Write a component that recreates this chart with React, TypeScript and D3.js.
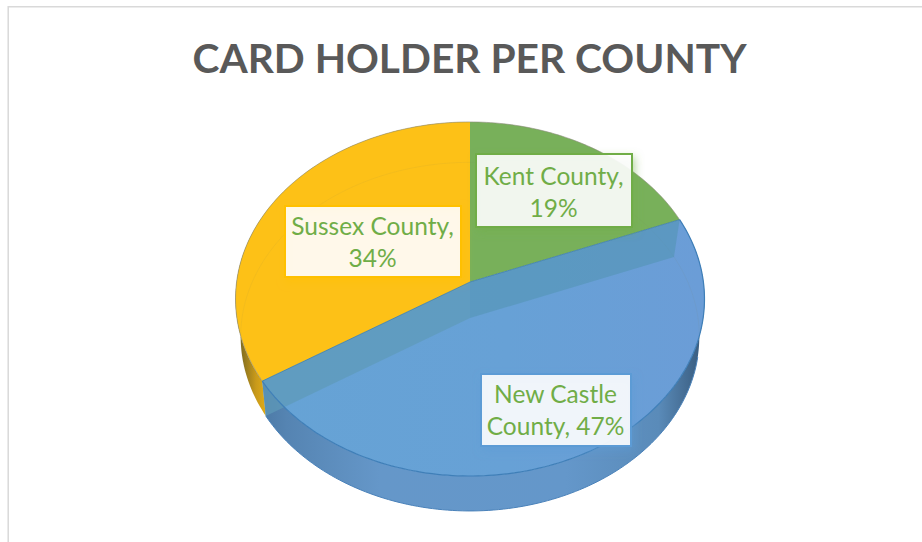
import React from 'react';
import * as d3 from 'd3';

const title = 'CARD HOLDER PER COUNTY';
const counties = ['Kent County', 'New Castle County', 'Sussex County'];
const shares = [19, 47, 34];
const labelLines = [
  ['Kent County,', '19%'],
  ['New Castle', 'County, 47%'],
  ['Sussex County,', '34%'],
];
const topColors = ['#78b05a', 'url(#topBlue)', '#fdc117'];
const borderColors = ['#70ad47', '#5b9bd5', '#ffc000'];

// label boxes were dragged by hand in the original, so they are placed by hand here
const labelBoxes = [
  { x: 476, y: 154, w: 156, h: 73, base: 184.5 },
  { x: 481, y: 374, w: 150, h: 72, base: 402.5 },
  { x: 285, y: 206, w: 176, h: 71, base: 234.5 },
];

const W = 922;
const H = 542;

// the pie is a tilted disc seen in perspective: a point's scale depends on how near it is
type Ring = { cx: number; cy: number; rx: number; ry: number; k: number };
const topRing: Ring = { cx: 470, cy: 282, rx: 233.4, ry: 175.4, k: 0.096 };
const bottomRing: Ring = { cx: 470, cy: 318, rx: 228, ry: 172.3, k: 0.107 };

const project = (ring: Ring, a: number): [number, number] => {
  const u = Math.sin(a);
  const v = -Math.cos(a);
  const s = 1 / (1 - ring.k * v);
  return [ring.cx + ring.rx * u * s, ring.cy + ring.ry * v * s];
};

const arcPoints = (ring: Ring, a0: number, a1: number) => {
  const n = Math.max(2, Math.ceil(Math.abs(a1 - a0) / 0.02));
  return d3.range(n + 1).map((i) => project(ring, a0 + ((a1 - a0) * i) / n));
};

const line = d3.line();
const closed = (pts: [number, number][]) => (line(pts) || '') + 'Z';

const arcs = d3
  .pie<number>()
  .sort(null)
  .startAngle(0)
  .endAngle(2 * Math.PI)(shares);

const topPath = (i: number) =>
  closed([[topRing.cx, topRing.cy], ...arcPoints(topRing, arcs[i].startAngle, arcs[i].endAngle)]);

const wallPath = (i: number) =>
  closed([
    ...arcPoints(topRing, arcs[i].startAngle, arcs[i].endAngle),
    ...arcPoints(bottomRing, arcs[i].endAngle, arcs[i].startAngle),
  ]);

// the wall inside the slice at a cut edge, seen through the see-through blue top
const innerWall = (a: number) =>
  closed([[topRing.cx, topRing.cy], project(topRing, a), project(bottomRing, a), [bottomRing.cx, bottomRing.cy]]);

export default function App() {
  const blue = arcs[1];
  return (
    <svg
      width={W}
      height={H}
      viewBox={`0 0 ${W} ${H}`}
      style={{ position: 'fixed', left: 0, top: 0, display: 'block', background: '#fff' }}
    >
      <defs>
        <linearGradient id="topBlue" gradientUnits="userSpaceOnUse" x1={270} x2={700} y1={0} y2={0}>
          <stop offset="0" stopColor="#66a3d5" />
          <stop offset="0.55" stopColor="#67a1d6" />
          <stop offset="1" stopColor="#6b9dd7" />
        </linearGradient>
        <linearGradient id="wallBlue" gradientUnits="userSpaceOnUse" x1={240} x2={705} y1={0} y2={0}>
          <stop offset="0" stopColor="#44709b" />
          <stop offset="0.1" stopColor="#5584b2" />
          <stop offset="0.3" stopColor="#6597c9" />
          <stop offset="0.7" stopColor="#6497ca" />
          <stop offset="0.9" stopColor="#5a8bb9" />
          <stop offset="1" stopColor="#36587a" />
        </linearGradient>
        <linearGradient id="wallYellow" gradientUnits="userSpaceOnUse" x1={240} x2={272} y1={0} y2={0}>
          <stop offset="0" stopColor="#7d6a20" />
          <stop offset="0.5" stopColor="#c99a1a" />
          <stop offset="1" stopColor="#eeb616" />
        </linearGradient>
        {labelBoxes.map((_, i) => (
          <filter key={i} id={`shadow${i}`} x="-15%" y="-20%" width="130%" height="150%">
            <feDropShadow dx={2} dy={4} stdDeviation={4} floodColor={borderColors[i]} floodOpacity={0.55} />
          </filter>
        ))}
      </defs>

      <path d={`M8.2,${H}V6.7H${W}`} fill="none" stroke="#d9d9d9" strokeWidth={1.5} />

      <text
        x={469.5}
        y={73}
        textAnchor="middle"
        fontFamily="Lato, 'Open Sans', sans-serif"
        fontWeight={700}
        fontSize={40.7}
        fill="#595959"
      >
        {title}
      </text>

      <g>
        <path d={wallPath(2)} fill="url(#wallYellow)" />
        <path d={wallPath(1)} fill="url(#wallBlue)" />
        {counties.map((c, i) => (
          <path key={c} d={topPath(i)} fill={topColors[i]} />
        ))}
        <path
          d={line(arcPoints(topRing, arcs[2].startAngle, arcs[0].endAngle + 2 * Math.PI)) || ''}
          fill="none"
          stroke="#8a8a7a"
          strokeOpacity={0.6}
          strokeWidth={1}
        />
        <path
          d={line(arcPoints(bottomRing, arcs[2].startAngle + 0.25, arcs[0].endAngle + 0.5 + 2 * Math.PI)) || ''}
          fill="none"
          stroke="#7a7a5a"
          strokeOpacity={0.08}
          strokeWidth={1}
        />
        <path d={innerWall(blue.startAngle)} fill="#5494b4" fillOpacity={0.62} />
        <path d={innerWall(blue.endAngle)} fill="#5e9ab8" fillOpacity={0.72} />
        <path
          d={line(arcPoints(topRing, blue.startAngle, blue.endAngle)) || ''}
          fill="none"
          stroke="#3f7fb8"
          strokeWidth={1.2}
        />
        <path
          d={
            line([
              project(topRing, blue.startAngle),
              [topRing.cx, topRing.cy],
              project(topRing, blue.endAngle),
            ]) || ''
          }
          fill="none"
          stroke="#3f7fa8"
          strokeWidth={0.8}
        />
        <path
          d={line(arcPoints(bottomRing, blue.startAngle + 0.6, blue.endAngle)) || ''}
          fill="none"
          stroke="#4a82ba"
          strokeWidth={1}
        />
      </g>

      {labelBoxes.map((b, i) => (
        <g key={counties[i]}>
          <rect
            x={b.x}
            y={b.y}
            width={b.w}
            height={b.h}
            fill="#fff"
            fillOpacity={0.88}
            stroke={borderColors[i]}
            strokeWidth={2}
            filter={`url(#shadow${i})`}
          />
          {labelLines[i].map((t, j) => (
            <text
              key={t}
              x={b.x + b.w / 2 - 0.5}
              y={b.base + j * 32.5}
              textAnchor="middle"
              fontFamily="Lato, 'Open Sans', sans-serif"
              fontSize={24.5}
              fill="#70ad47"
            >
              {t}
            </text>
          ))}
        </g>
      ))}
    </svg>
  );
}
